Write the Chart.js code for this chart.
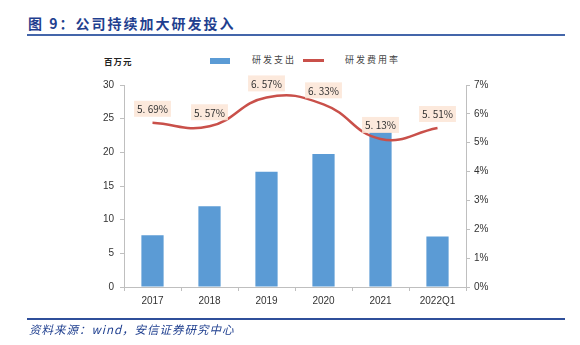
<!DOCTYPE html>
<html><head><meta charset="utf-8">
<script src="https://cdn.jsdelivr.net/npm/chart.js@4/dist/chart.umd.min.js"></script>
<style>
html,body{margin:0;padding:0;background:#fff;}
#wrap{position:relative;width:580px;height:345px;overflow:hidden;font-family:"Noto Sans CJK SC",sans-serif;}
#title{position:absolute;left:28px;top:13px;font-size:14px;font-weight:bold;color:#1F3F8F;letter-spacing:2px;white-space:nowrap;}
#tline{position:absolute;left:27px;top:34px;width:538px;height:2px;background:#4466AA;}
#fline{position:absolute;left:27px;top:318px;width:538px;height:2px;background:#2F4F9A;}
#foot{position:absolute;left:29px;top:321px;font-size:11.5px;font-style:italic;color:#1F3F8F;letter-spacing:1px;white-space:nowrap;}
#unit{position:absolute;left:104px;top:55px;font-size:8.5px;font-weight:bold;color:#222;letter-spacing:1px;}
.lg{position:absolute;font-size:9px;color:#444;letter-spacing:2px;white-space:nowrap;}
#c{position:absolute;left:0;top:0;}
</style></head>
<body><div id="wrap">
<div id="title">图 9：公司持续加大研发投入</div>
<div id="tline"></div>
<div id="unit">百万元</div>
<div style="position:absolute;left:210px;top:58px;width:20px;height:6px;background:#5B9BD5;"></div>
<div class="lg" style="left:252px;top:53px;">研发支出</div>
<div style="position:absolute;left:303px;top:59px;width:21px;height:2.5px;background:#C9504A;"></div>
<div class="lg" style="left:345px;top:53px;">研发费用率</div>
<canvas id="c" width="580" height="345"></canvas>
<div id="fline"></div>
<div id="foot">资料来源：wind，安信证券研究中心</div>
</div>
<script>
const categories = ["2017","2018","2019","2020","2021","2022Q1"];
const tickLabels = ["2017","2018","2019","2020","2021","2022Q1"];
const rdSpend = [7.7, 12.0, 17.1, 19.75, 23.0, 7.5];
const rdRate = [5.69, 5.57, 6.57, 6.33, 5.13, 5.51];
const rateLabels = ["5. 69%","5. 57%","6. 57%","6. 33%","5. 13%","5. 51%"];
const rightTicks = ["0%","1%","2%","3%","4%","5%","6%","7%"];

const labelPlugin = {
  id:'lbl',
  afterDatasetsDraw(chart){
    const ctx = chart.ctx;
    const meta = chart.getDatasetMeta(1);
    ctx.save();
    ctx.font = '10px "Noto Sans CJK SC", sans-serif';
    ctx.textAlign='center'; ctx.textBaseline='middle';
    meta.data.forEach((p,i)=>{
      const t = rateLabels[i];
      const w = ctx.measureText(t).width + 6;
      const h = 16;
      const cx = p.x, cy = p.y - 14;
      ctx.fillStyle = 'rgba(251,229,214,0.85)';
      ctx.fillRect(cx - w/2, cy - h/2, w, h);
      ctx.fillStyle = '#333';
      ctx.fillText(t, cx, cy+0.5);
    });
    ctx.restore();
  }
};

const tickFont = {family:'"Liberation Sans", Arial, sans-serif', size:10};
new Chart(document.getElementById('c'), {
  data:{
    labels: categories,
    datasets:[
      {type:'bar', label:'研发支出', data: rdSpend, backgroundColor:'#5B9BD5', yAxisID:'y', barPercentage:0.78, categoryPercentage:0.5, order:2},
      {type:'line', label:'研发费用率', data: rdRate, borderColor:'#C9504A', borderWidth:2.5, pointRadius:0, tension:0.45, fill:false, yAxisID:'y1', order:1}
    ]
  },
  options:{
    responsive:false, animation:false,
    layout:{padding:{top:85,bottom:0,left:0,right:0}},
    plugins:{legend:{display:false}, tooltip:{enabled:false}},
    scales:{
      x:{
        ticks:{color:'#333', font:tickFont, padding:4, callback:(v,i)=>tickLabels[i], maxRotation:0},
        grid:{display:true, drawOnChartArea:false, tickLength:4, color:'#bfbfbf', offset:true},
        border:{color:'#bfbfbf'},
        afterFit(s){ s.height = 58; }
      },
      y:{
        position:'left', min:0, max:30,
        ticks:{stepSize:5, color:'#333', font:tickFont, padding:6},
        grid:{display:true, drawOnChartArea:false, tickLength:4, color:'#bfbfbf'},
        border:{color:'#bfbfbf'},
        afterFit(s){ s.width = 124; }
      },
      y1:{
        position:'right', min:0, max:7,
        ticks:{stepSize:1, color:'#333', font:tickFont, padding:4, callback:(v,i)=>rightTicks[i]},
        grid:{display:true, drawOnChartArea:false, tickLength:4, color:'#bfbfbf'},
        border:{color:'#bfbfbf'},
        afterFit(s){ s.width = 114; }
      }
    }
  },
  plugins:[labelPlugin]
});
</script>
</body></html>
